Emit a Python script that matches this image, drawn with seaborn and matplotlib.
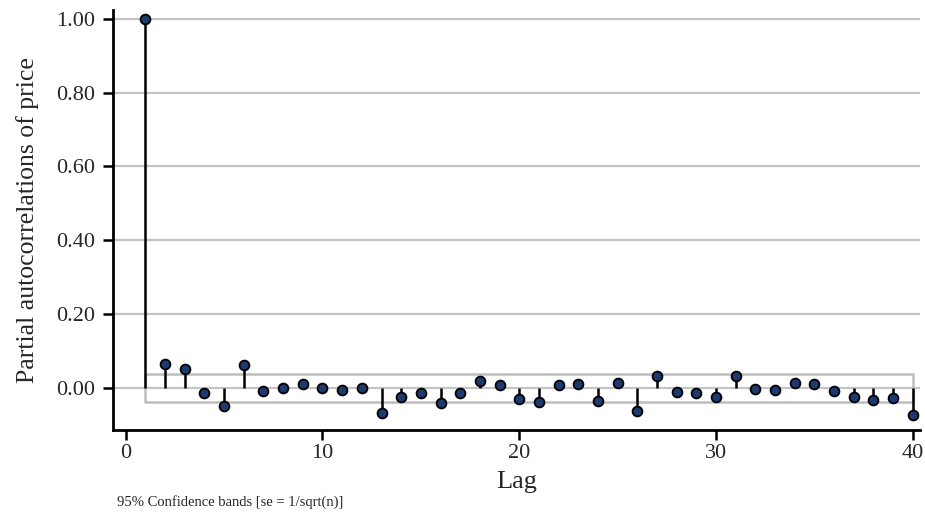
import matplotlib
matplotlib.use("Agg")
import matplotlib.pyplot as plt
import seaborn as sns
import numpy as np
import pandas as pd

lags = list(range(1, 41))
pacf = [1.000, 0.065, 0.051, -0.013, -0.049, 0.062, -0.008, 0.001, 0.011, 0.001,
        -0.006, 0.001, -0.067, -0.025, -0.014, -0.041, -0.014, 0.019, 0.009, -0.030,
        -0.038, 0.007, 0.011, -0.035, 0.014, -0.062, 0.033, -0.012, -0.014, -0.024,
        0.033, -0.003, -0.004, 0.013, 0.012, -0.007, -0.024, -0.033, -0.028, -0.074]
ci_bound = 0.038
yticks = [0.0, 0.2, 0.4, 0.6, 0.8, 1.0]
xticks = [0, 10, 20, 30, 40]

df = pd.DataFrame({"Lag": lags, "pacf": pacf})

sns.set_theme(style="white")
plt.rcParams['font.family'] = ['Liberation Serif', 'DejaVu Serif']

fig = plt.figure(figsize=(9.25, 5.17), dpi=100)
ax = fig.add_axes([0.122, 0.168, 0.873, 0.813])

for y in yticks:
    ax.axhline(y, color="#c4c4c4", lw=1.6, zorder=0)

ax.fill_between(lags, -ci_bound, ci_bound, facecolor="none", edgecolor="#bdbdbd", lw=1.8, zorder=1)

ax.vlines(df["Lag"], 0, df["pacf"], color="black", lw=1.8, zorder=2)
sns.scatterplot(data=df, x="Lag", y="pacf", ax=ax, s=50, color="#1c3a6e",
                edgecolor="black", linewidth=1.3, zorder=3, marker="o")

ax.set_xlim(-0.66, 40.4)
ax.set_ylim(-0.114, 1.024)
ax.set_xticks(xticks)
ax.set_yticks(yticks)
ax.set_yticklabels([f"{v:.2f}" for v in yticks])
ax.tick_params(axis="both", which="both", direction="out", length=7, width=1.8,
               color="black", labelsize=16, left=True, bottom=True)
ax.tick_params(axis="x", pad=3)
ax.tick_params(axis="y", pad=6)
for s in ["top", "right"]:
    ax.spines[s].set_visible(False)
for s in ["left", "bottom"]:
    ax.spines[s].set_color("black")
    ax.spines[s].set_linewidth(2)

ax.set_xlabel("Lag", fontsize=19, labelpad=6)
ax.set_ylabel("Partial autocorrelations of price", fontsize=18.5, labelpad=12)
fig.text(0.127, 0.022, "95% Confidence bands [se = 1/sqrt(n)]", fontsize=10.5, ha="left")

fig.savefig("out.png", dpi=100)
